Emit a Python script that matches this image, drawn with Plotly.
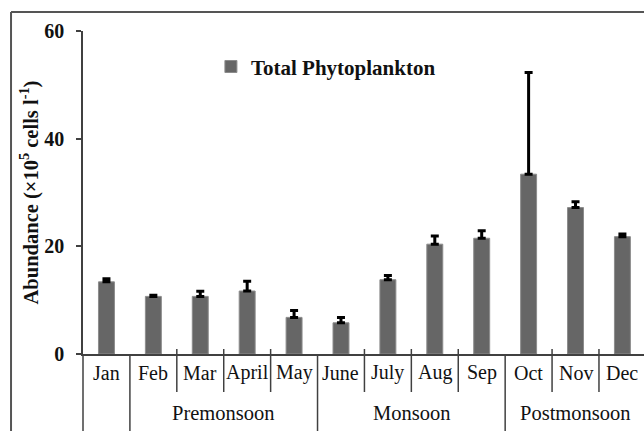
import plotly.graph_objects as go

months = ['Jan', 'Feb', 'Mar', 'April', 'May', 'June', 'July', 'Aug', 'Sep', 'Oct', 'Nov', 'Dec']
values = [13.4, 10.7, 10.7, 11.7, 6.8, 5.8, 13.8, 20.4, 21.5, 33.4, 27.2, 21.8]
errors = [0.6, 0.2, 0.95, 1.8, 1.3, 1.0, 0.8, 1.5, 1.4, 18.9, 1.1, 0.5]
seasons = ['Premonsoon', 'Monsoon', 'Postmonsoon']
season_months = [['Feb', 'Mar', 'April', 'May'], ['June', 'July', 'Aug', 'Sep'], ['Oct', 'Nov', 'Dec']]
y_ticks = [0, 20, 40, 60]

FONT = "'Liberation Serif', 'Times New Roman', serif"
AX = '#404040'
XMIN, XMAX = -0.5, 11.46

fig = go.Figure()
fig.add_trace(go.Bar(
    x=list(range(len(months))), y=values, name='Total Phytoplankton',
    width=0.34,
    marker=dict(color='#666666', line=dict(color='#8c8c8c', width=1)),
    error_y=dict(type='data', symmetric=False, array=errors,
                 arrayminus=[0] * len(errors), color='black', thickness=3, width=4),
))


def px(xval):
    return (xval - XMIN) / (XMAX - XMIN)


shapes = []
annotations = []
line = dict(color=AX, width=1.5)
group_ends = set()
for grp in season_months:
    group_ends.add(months.index(grp[0]) - 0.5)
for i in range(len(months) - 1):
    b = i + 0.5
    if b in group_ends:
        shapes.append(dict(type='line', xref='paper', yref='paper', x0=px(b), x1=px(b),
                           y0=0, y1=-0.3, line=line))
    else:
        shapes.append(dict(type='line', xref='paper', yref='paper', x0=px(b), x1=px(b),
                           y0=0.0155, y1=-0.1176, line=line))
# y axis extended down
shapes.append(dict(type='line', xref='paper', yref='paper', x0=0, x1=0, y0=0, y1=-0.3, line=line))
# outer frame
shapes.append(dict(type='line', xref='paper', yref='paper', x0=-0.1283, x1=1.05,
                   y0=1.0588, y1=1.0588, line=dict(color='#555555', width=2)))
shapes.append(dict(type='line', xref='paper', yref='paper', x0=-0.1283, x1=-0.1283,
                   y0=1.0588, y1=-0.3, line=dict(color='#555555', width=2)))

for i, m in enumerate(months):
    annotations.append(dict(x=i, xref='x', y=-0.0588, yref='paper', text=m, showarrow=False,
                            yanchor='middle', xanchor='center',
                            font=dict(family=FONT, size=20, color='#111111')))
for s, grp in zip(seasons, season_months):
    c = (months.index(grp[0]) + months.index(grp[-1])) / 2
    annotations.append(dict(x=c, xref='x', y=-0.1827, yref='paper', text=s, showarrow=False,
                            yanchor='middle', xanchor='center',
                            font=dict(family=FONT, size=20.5, color='#111111')))

fig.update_layout(
    width=644, height=431,
    margin=dict(l=83, r=0, t=31, b=77),
    paper_bgcolor='white', plot_bgcolor='white',
    showlegend=True,
    legend=dict(x=0.228, y=0.889, xanchor='left', yanchor='middle',
                bgcolor='rgba(0,0,0,0)', itemwidth=30,
                font=dict(family=FONT, size=21, color='#111111', weight='bold')),
    xaxis=dict(range=[XMIN, XMAX], showticklabels=False, showline=True, linecolor=AX,
               linewidth=1.5, ticks='', showgrid=False, zeroline=False),
    yaxis=dict(range=[0, 60], tickvals=y_ticks, showline=True, linecolor=AX, linewidth=1.5,
               ticks='outside', ticklen=5, tickcolor=AX, tickwidth=1.5, showgrid=False,
               zeroline=False, ticklabelstandoff=8,
               tickfont=dict(family=FONT, size=20, color='#111111', weight='bold'),
               title=dict(text='Abundance (×10<sup>5</sup> cells l<sup>-1</sup>)', standoff=0,
                          font=dict(family=FONT, size=20.5, color='#111111', weight='bold'))),
    shapes=shapes,
    annotations=annotations,
)

fig.write_html('out.html', config={'displayModeBar': False},
               post_script="document.body.style.margin='0';document.body.style.overflow='hidden';")
